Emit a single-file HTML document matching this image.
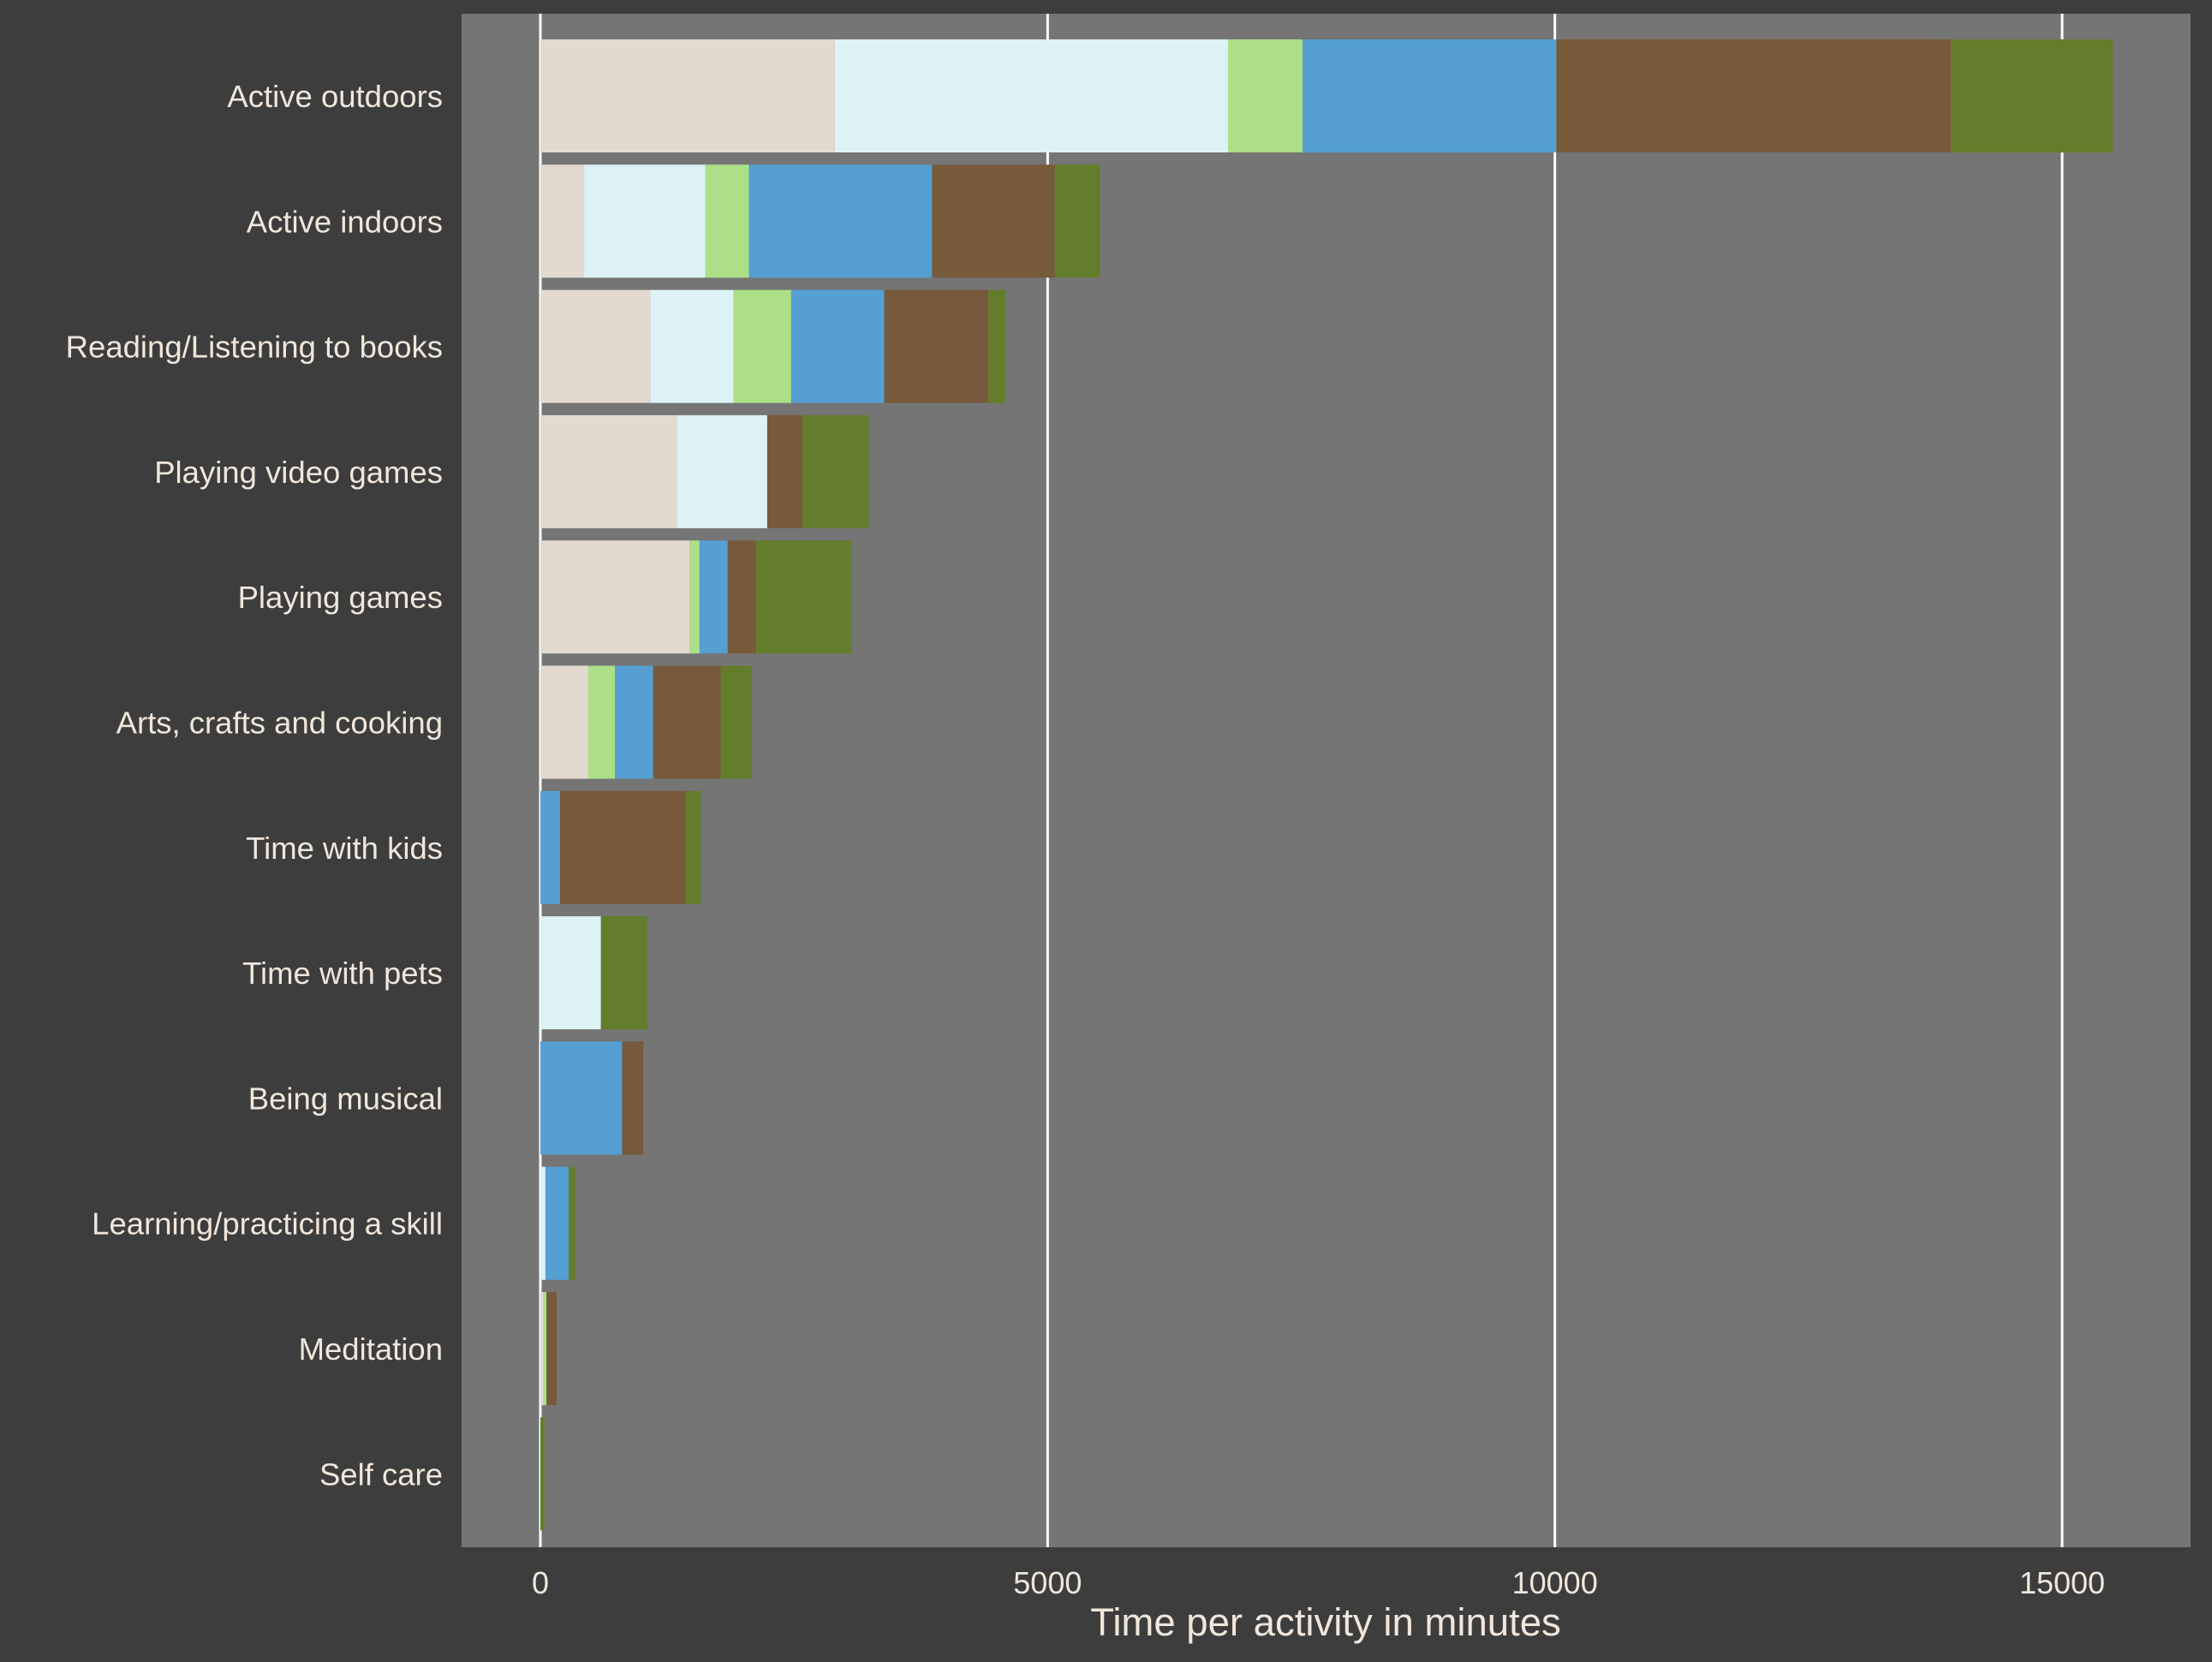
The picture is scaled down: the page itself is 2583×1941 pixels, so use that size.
<!DOCTYPE html>
<html><head><meta charset="utf-8"><style>
html,body{margin:0;padding:0;background:#3d3d3d;}
svg{display:block;font-family:"Liberation Sans",Arial,sans-serif;}
</style></head><body>
<svg id="chart" width="2583" height="1941" xmlns="http://www.w3.org/2000/svg">
<rect width="2583" height="1941" fill="#3d3d3d"/>
<rect x="539" y="16" width="2019" height="1791" fill="#757575"/>
<g id="grid"></g><g id="bars"></g><g id="ylabels"></g><g id="xticks"></g>
<text x="1548" y="1910" text-anchor="middle" font-size="45.5" fill="#f0e6dc">Time per activity in minutes</text>
</svg>
<script>
const categories = ["Active outdoors","Active indoors","Reading/Listening to books","Playing video games","Playing games","Arts, crafts and cooking","Time with kids","Time with pets","Being musical","Learning/practicing a skill","Meditation","Self care"];
const seriesBeige = [2903,431,1083,1347,1472,472,0,0,0,0,15,0];
const seriesLightBlue = [3875,1194,820,889,0,0,0,597,0,50,10,0];
const seriesLightGreen = [736,431,569,0,97,264,0,0,0,0,35,0];
const seriesBlue = [2500,1805,917,0,278,375,194,0,806,230,0,0];
const seriesBrown = [3889,1208,1028,347,278,667,1236,0,208,0,100,0];
const seriesGreen = [1597,445,166,653,944,305,153,458,0,70,0,40];
const tickValues = [0,5000,10000,15000];
const tickLabels = ["0","5000","10000","15000"];
const series = [seriesBeige,seriesLightBlue,seriesLightGreen,seriesBlue,seriesBrown,seriesGreen];
const colors = ["#e3dacf","#ddf2f5","#acdf87","#559fd2","#765a3b","#637d2c"];
const names = ["beige","light-blue","light-green","blue","brown","green"];
const NS="http://www.w3.org/2000/svg";
const x = v => 631 + v*(2408-631)/15000;
const yc = i => 112 + i*146.3;
const bh = 132;
function mk(tag, attrs, parent){const e=document.createElementNS(NS,tag);for(const k in attrs)e.setAttribute(k,attrs[k]);parent.appendChild(e);return e;}
const grid=document.getElementById('grid'), bars=document.getElementById('bars'), yl=document.getElementById('ylabels'), xt=document.getElementById('xticks');
tickValues.forEach((v,i)=>{
  const l=mk('line',{x1:x(v),x2:x(v),y1:16,y2:1807,stroke:'#ffffff','stroke-width':3},grid);
  
  
  const t=mk('text',{x:x(v),y:1861,'text-anchor':'middle','font-size':36,fill:'#f0e6dc'},xt);
  t.textContent=tickLabels[i];
  
  
});
categories.forEach((c,i)=>{
  let cum=0;
  series.forEach((s,j)=>{
    const v=s[i];
    if(v>0){
      const r=mk('rect',{x:x(cum),y:yc(i)-bh/2,width:x(cum+v)-x(cum),height:bh,fill:colors[j]},bars);
      
      
    }
    cum+=v;
  });
  const t=mk('text',{x:517,y:yc(i)+13,'text-anchor':'end','font-size':36.5,fill:'#f0e6dc'},yl);
  t.textContent=c;
  
  
});
</script>
</body></html>
